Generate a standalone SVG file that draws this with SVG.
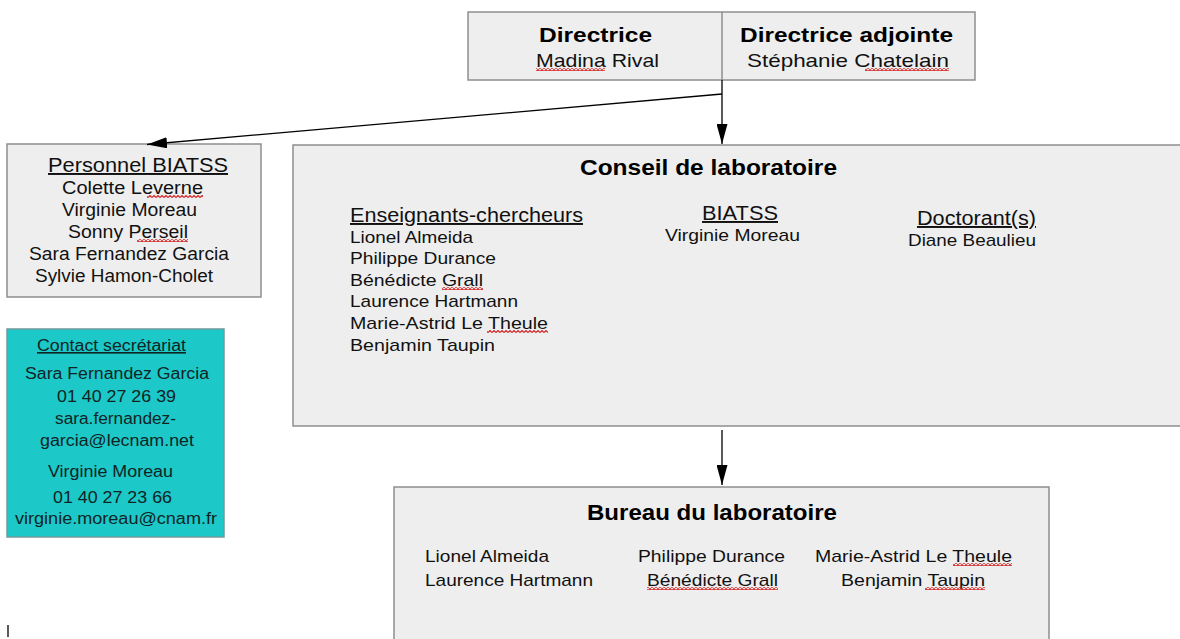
<svg xmlns="http://www.w3.org/2000/svg" width="1180" height="639" viewBox="0 0 1180 639">
<style>
text{font-family:"Liberation Sans",Arial,sans-serif;fill:#111111}
.box{fill:#eeeeee;stroke:#8e8e8e;stroke-width:1.5}
.teal{fill:#1cc8c8;stroke:#6f9a9a;stroke-width:1.5}
.b{font-weight:bold;fill:#000}
.h{font-size:19.5px;text-decoration:underline}
.n{font-size:17px}
.p{font-size:17.5px}
.t{font-size:16px;fill:#102424}
.tt{font-size:21.5px}
.con{stroke:#000;stroke-width:1.3;fill:none}
</style>
<defs>
<marker id="arr" viewBox="0 0 20 11" refX="20" refY="5.5" markerWidth="20" markerHeight="11" markerUnits="userSpaceOnUse" orient="auto">
<path d="M0,0 L20,5.5 L0,11 Z" fill="#000"/>
</marker>
<pattern id="sq" width="4" height="3" patternUnits="userSpaceOnUse">
<path d="M0,2.5 L2,0.5 L4,2.5" fill="none" stroke="#d42020" stroke-width="1.1"/>
</pattern>
</defs>
<rect width="1180" height="639" fill="#ffffff"/>

<g id="direction">
<rect class="box" x="468" y="12" width="507" height="68"/>
<line x1="722" y1="12" x2="722" y2="80" stroke="#8e8e8e" stroke-width="1.5"/>
<text class="b" x="539" y="42" font-size="21" textLength="113" lengthAdjust="spacingAndGlyphs">Directrice</text>
<text x="536" y="67" font-size="18.5" textLength="123" lengthAdjust="spacingAndGlyphs">Madina Rival</text>
<text class="b" x="740" y="42" font-size="21" textLength="213" lengthAdjust="spacingAndGlyphs">Directrice adjointe</text>
<text x="747" y="67" font-size="18.5" textLength="202" lengthAdjust="spacingAndGlyphs">Stéphanie Chatelain</text>
</g>

<g id="personnel">
<rect class="box" x="7" y="144" width="254" height="153"/>
<text class="h" x="48" y="172" textLength="180" lengthAdjust="spacingAndGlyphs">Personnel BIATSS</text>
<text class="p" x="62" y="194" textLength="141" lengthAdjust="spacingAndGlyphs">Colette Leverne</text>
<text class="p" x="62" y="216" textLength="135" lengthAdjust="spacingAndGlyphs">Virginie Moreau</text>
<text class="p" x="68" y="238" textLength="120" lengthAdjust="spacingAndGlyphs">Sonny Perseil</text>
<text class="p" x="29" y="260" textLength="200" lengthAdjust="spacingAndGlyphs">Sara Fernandez Garcia</text>
<text class="p" x="35" y="282" textLength="178" lengthAdjust="spacingAndGlyphs">Sylvie Hamon-Cholet</text>
</g>

<g id="contact">
<rect class="teal" x="7" y="329" width="217" height="208"/>
<text class="t" x="37" y="351" textLength="149" lengthAdjust="spacingAndGlyphs" text-decoration="underline">Contact secrétariat</text>
<text class="t" x="25" y="379" textLength="184" lengthAdjust="spacingAndGlyphs">Sara Fernandez Garcia</text>
<text class="t" x="57" y="402" textLength="119" lengthAdjust="spacingAndGlyphs">01 40 27 26 39</text>
<text class="t" x="55" y="424" textLength="121" lengthAdjust="spacingAndGlyphs">sara.fernandez-</text>
<text class="t" x="40" y="446" textLength="154" lengthAdjust="spacingAndGlyphs">garcia@lecnam.net</text>
<text class="t" x="48" y="477" textLength="125" lengthAdjust="spacingAndGlyphs">Virginie Moreau</text>
<text class="t" x="53" y="503" textLength="119" lengthAdjust="spacingAndGlyphs">01 40 27 23 66</text>
<text class="t" x="15" y="524" textLength="202" lengthAdjust="spacingAndGlyphs">virginie.moreau@cnam.fr</text>
</g>

<g id="conseil">
<rect class="box" x="293" y="145" width="895" height="281"/>
<text class="b tt" x="580" y="175" textLength="257" lengthAdjust="spacingAndGlyphs">Conseil de laboratoire</text>
<text class="h" x="350" y="222" textLength="233" lengthAdjust="spacingAndGlyphs">Enseignants-chercheurs</text>
<text class="n" x="350" y="243" textLength="123" lengthAdjust="spacingAndGlyphs">Lionel Almeida</text>
<text class="n" x="350" y="264" textLength="146" lengthAdjust="spacingAndGlyphs">Philippe Durance</text>
<text class="n" x="350" y="286" textLength="133" lengthAdjust="spacingAndGlyphs">Bénédicte Grall</text>
<text class="n" x="350" y="307" textLength="168" lengthAdjust="spacingAndGlyphs">Laurence Hartmann</text>
<text class="n" x="350" y="329" textLength="198" lengthAdjust="spacingAndGlyphs">Marie-Astrid Le Theule</text>
<text class="n" x="350" y="351" textLength="145" lengthAdjust="spacingAndGlyphs">Benjamin  Taupin</text>
<text class="h" x="702" y="220" textLength="76" lengthAdjust="spacingAndGlyphs">BIATSS</text>
<text class="n" x="665" y="241" textLength="135" lengthAdjust="spacingAndGlyphs">Virginie Moreau</text>
<text class="h" x="917" y="225" textLength="119" lengthAdjust="spacingAndGlyphs">Doctorant(s)</text>
<text class="n" x="908" y="246" textLength="128" lengthAdjust="spacingAndGlyphs">Diane Beaulieu</text>
</g>

<g id="bureau">
<rect class="box" x="394" y="487" width="655" height="160"/>
<text class="b tt" x="587" y="520" textLength="250" lengthAdjust="spacingAndGlyphs">Bureau du laboratoire</text>
<text class="n" x="425" y="562" textLength="124" lengthAdjust="spacingAndGlyphs">Lionel Almeida</text>
<text class="n" x="425" y="586" textLength="168" lengthAdjust="spacingAndGlyphs">Laurence Hartmann</text>
<text class="n" x="638" y="562" textLength="147" lengthAdjust="spacingAndGlyphs">Philippe Durance</text>
<text class="n" x="647" y="586" textLength="131" lengthAdjust="spacingAndGlyphs">Bénédicte Grall</text>
<text class="n" x="815" y="562" textLength="197" lengthAdjust="spacingAndGlyphs">Marie-Astrid Le Theule</text>
<text class="n" x="841" y="586" textLength="144" lengthAdjust="spacingAndGlyphs">Benjamin  Taupin</text>
</g>

<g id="connectors">
<line class="con" x1="722" y1="80" x2="722" y2="144" marker-end="url(#arr)"/>
<line class="con" x1="722" y1="94" x2="147" y2="144.5" marker-end="url(#arr)"/>
<line class="con" x1="722" y1="430" x2="722" y2="485" marker-end="url(#arr)"/>
</g>

<g id="spellcheck" fill="url(#sq)">
<rect x="536" y="68" width="69" height="3"/>
<rect x="865" y="68" width="84" height="3"/>
<rect x="147" y="195" width="56" height="3"/>
<rect x="137" y="239" width="51" height="3"/>
<rect x="442" y="287" width="41" height="3"/>
<rect x="487" y="330" width="61" height="3"/>
<rect x="647" y="587" width="131" height="3"/>
<rect x="953" y="563" width="59" height="3"/>
<rect x="925" y="587" width="60" height="3"/>
</g>

<line x1="8" y1="625" x2="8" y2="637" stroke="#000" stroke-width="1.3"/>
</svg>
